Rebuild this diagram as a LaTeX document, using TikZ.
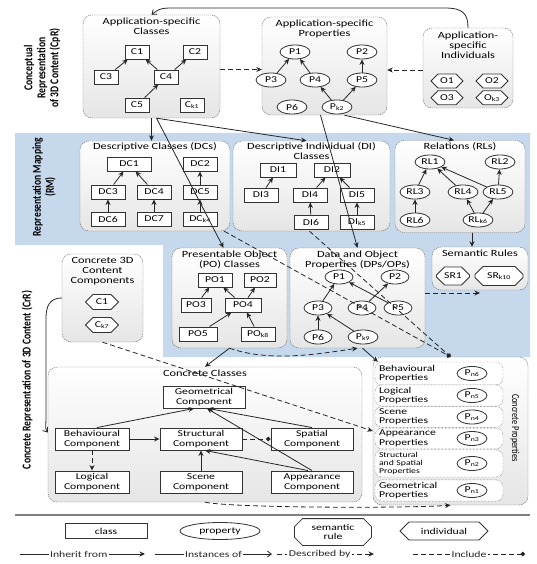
\documentclass[tikz,border=0pt]{standalone}
\usepackage{fontspec}
\setmainfont{Carlito}[FakeStretch=1.3]
\newfontfamily\sidefont{Carlito}[FakeStretch=0.8]
\usepackage{tikz}
\usetikzlibrary{shapes.geometric, shapes.misc, shapes.symbols, arrows.meta, positioning}
\definecolor{MapBlue}{HTML}{C6D9EC}
\definecolor{EdgeGray}{HTML}{333333}
\definecolor{RuleGray}{HTML}{7F7F7F}
\tikzset{
  % Group styles
  groupbox/.style={rectangle, rounded corners=9pt, draw=black!60, dash pattern=on 1.2pt off 0.8pt, top color=white, bottom color=black!10, inner sep=0pt},
  grouptitle/.style={font=\fontsize{9.5}{10}\selectfont, align=center, inner sep=1pt, anchor=north},
  % Element styles
  classbox/.style={rectangle, draw=EdgeGray, fill=white, line width=0.9pt, minimum width=24pt, minimum height=14pt, inner sep=1pt, font=\fontsize{9}{9.5}\selectfont},
  propnode/.style={ellipse, draw=EdgeGray, fill=white, line width=0.8pt, minimum width=30pt, minimum height=14pt, inner sep=0pt, font=\fontsize{9}{9.5}\selectfont},
  indivnode/.style={signal, signal to=west and east, draw=EdgeGray, fill=white, line width=0.8pt, minimum width=32pt, minimum height=14pt, inner sep=1pt, font=\fontsize{9}{9.5}\selectfont},
  rulenode/.style={chamfered rectangle, chamfered rectangle xsep=4pt, chamfered rectangle ysep=4pt, draw=EdgeGray, fill=white, line width=0.8pt, minimum height=16pt, inner sep=2pt, font=\fontsize{9}{9.5}\selectfont},
  compbox/.style={classbox, minimum width=82pt, minimum height=22pt, align=center, font=\fontsize{9}{10}\selectfont},
  propitem/.style={rectangle, rounded corners=7pt, draw=black!70, densely dotted, fill=white, minimum width=128pt, text width=120pt, align=left, inner sep=2pt, font=\fontsize{9}{9.5}\selectfont},
  sidelabel/.style={rotate=90, font=\sidefont\bfseries\fontsize{12}{13}\selectfont, align=center},
  legendtext/.style={fill=white, inner sep=1.5pt, font=\fontsize{9}{9.5}\selectfont},
  % Connector styles
  inherit/.style={-{Stealth[length=5.5pt, width=5pt]}, line width=0.8pt, black!85},
  instance/.style={-{Straight Barb[length=4pt, width=6pt]}, line width=0.8pt, black!85},
  describe/.style={-{Stealth[length=5.5pt, width=5pt]}, dash pattern=on 5pt off 3pt, line width=0.8pt, black!85},
  include/.style={-{Circle[length=4.5pt]}, dash pattern=on 5pt off 3pt, line width=0.8pt, black!85}
}
\begin{document}
\begin{tikzpicture}[x=1pt, y=-1pt]
  \useasboundingbox (0,0) rectangle (536,564);
  % Mapping band
  \fill[MapBlue] (15,133) -- (530,133) -- (530,357) -- (163,357) -- (163,245) -- (15,245) -- cycle;

  % Layer labels
  \node[sidelabel] (cprlabel) at (42,68) {Conceptual\\Representation\\of 3D Content (CpR)};
  \node[sidelabel] (rmlabel) at (44,187) {Representation Mapping\\(RM)};
  \node[sidelabel] (crrlabel) at (27,380) {Concrete Representation of 3D Content (CrR)};

  % Application-specific classes
  \node[groupbox, minimum width=137pt, minimum height=103pt] (asclasses) at (151.5,66.5) {};
  \node[grouptitle] (asclassestitle) at ([yshift=-2pt]asclasses.north) {Application-specific\\Classes};
  \node[classbox] (c1) at (137,52) {C1};
  \node[classbox] (c2) at (195,52) {C2};
  \node[classbox] (c3) at (106,77) {C3};
  \node[classbox] (c4) at (166,77) {C4};
  \node[classbox] (c5) at (137,105) {C5};
  \node[classbox] (ck1) at (192,105) {C\textsubscript{k1}};

  % Application-specific properties
  \node[groupbox, minimum width=125pt, minimum height=98pt] (asprops) at (324.5,66) {};
  \node[grouptitle] (aspropstitle) at ([yshift=-2pt]asprops.north) {Application-specific\\Properties};
  \node[propnode] (ap1) at (295,52) {P1};
  \node[propnode] (ap2) at (362,52) {P2};
  \node[propnode] (ap3) at (271,80) {P3};
  \node[propnode] (ap4) at (315,80) {P4};
  \node[propnode] (ap5) at (362,80) {P5};
  \node[propnode] (ap6) at (292,107) {P6};
  \node[propnode] (apk2) at (337,107) {P\textsubscript{k2}};

  % Application-specific individuals
  \node[groupbox, minimum width=90pt, minimum height=80pt] (asindiv) at (468,68) {};
  \node[grouptitle] (asindivtitle) at ([yshift=-3pt]asindiv.north) {Application-\\specific\\Individuals};
  \node[indivnode] (o1) at (447,81) {O1};
  \node[indivnode] (o2) at (492,81) {O2};
  \node[indivnode, below=2pt of o1] (o3) {O3};
  \node[indivnode, below=2pt of o2] (ok3) {O\textsubscript{k3}};

  % Descriptive classes
  \node[groupbox, minimum width=150pt, minimum height=90pt] (dcs) at (155,186) {};
  \node[grouptitle] (dcstitle) at ([yshift=-1pt]dcs.north) {Descriptive Classes (DCs)};
  \node[classbox, minimum width=44pt] (dc1) at (129,164) {DC1};
  \node[classbox, minimum width=34pt] (dc2) at (200,164) {DC2};
  \node[classbox, minimum width=34pt] (dc3) at (108,192) {DC3};
  \node[classbox, minimum width=34pt] (dc4) at (154,192) {DC4};
  \node[classbox, minimum width=34pt] (dc5) at (200,192) {DC5};
  \node[classbox, minimum width=34pt] (dc6) at (108,219) {DC6};
  \node[classbox, minimum width=34pt] (dc7) at (154,219) {DC7};
  \node[classbox, minimum width=34pt] (dck4) at (200,219) {DC\textsubscript{k4}};

  % Descriptive individual classes
  \node[groupbox, minimum width=157pt, minimum height=90pt] (dis) at (311.5,186) {};
  \node[grouptitle] (distitle) at ([yshift=-1pt]dis.north) {Descriptive Individual (DI)\\Classes};
  \node[classbox, minimum width=36pt] (di1) at (278,170) {DI1};
  \node[classbox, minimum width=36pt] (di2) at (332,170) {DI2};
  \node[classbox, minimum width=34pt] (di3) at (261,195) {DI3};
  \node[classbox, minimum width=34pt] (di4) at (310,195) {DI4};
  \node[classbox, minimum width=34pt] (di5) at (357,195) {DI5};
  \node[classbox, minimum width=34pt] (di6) at (311,222) {DI6};
  \node[classbox, minimum width=34pt] (dik5) at (357,222) {DI\textsubscript{k5}};

  % Relations
  \node[groupbox, minimum width=130pt, minimum height=92pt] (rls) at (460,186.5) {};
  \node[grouptitle] (rlstitle) at ([yshift=-1pt]rls.north) {Relations (RLs)};
  \node[propnode] (rl1) at (430,162) {RL1};
  \node[propnode] (rl2) at (500,162) {RL2};
  \node[propnode] (rl3) at (415,192) {RL3};
  \node[propnode] (rl4) at (463,192) {RL4};
  \node[propnode] (rl5) at (498,192) {RL5};
  \node[propnode] (rl6) at (415,220) {RL6};
  \node[propnode] (rlk6) at (478,220) {RL\textsubscript{k6}};

  % Semantic rules
  \node[groupbox, minimum width=96pt, minimum height=43pt] (srules) at (480,268.5) {};
  \node[grouptitle] (srulestitle) at ([yshift=-2pt]srules.north) {Semantic Rules};
  \node[rulenode, minimum width=33pt] (sr1) at (453,276) {SR1};
  \node[rulenode, minimum width=48pt] (srk10) at (499,276) {SR\textsubscript{k10}};

  % Concrete 3D content components
  \node[groupbox, minimum width=81pt, minimum height=88pt] (c3d) at (102.5,298) {};
  \node[grouptitle] (c3dtitle) at ([yshift=-2pt]c3d.north) {Concrete 3D\\Content\\Components};
  \node[indivnode, minimum width=33pt, minimum height=15pt] (cc1) at (102,302) {C1};
  \node[indivnode, minimum width=33pt, minimum height=15pt] (cck7) at (102,325) {C\textsubscript{k7}};

  % Presentable object classes
  \node[groupbox, minimum width=115pt, minimum height=100pt] (poclasses) at (229.5,298) {};
  \node[grouptitle] (potitle) at ([yshift=-2pt]poclasses.north) {Presentable Object\\(PO) Classes};
  \node[classbox, minimum width=34pt] (po1) at (215,280) {PO1};
  \node[classbox, minimum width=32pt] (po2) at (260,280) {PO2};
  \node[classbox, minimum width=30pt] (po3) at (196,305) {PO3};
  \node[classbox, minimum width=36pt] (po4) at (243,305) {PO4};
  \node[classbox, minimum width=38pt] (po5) at (198,334) {PO5};
  \node[classbox, minimum width=34pt] (pok8) at (258,334) {PO\textsubscript{k8}};

  % Data and object properties
  \node[groupbox, minimum width=135pt, minimum height=100pt] (dpops) at (357.5,298) {};
  \node[grouptitle] (dptitle) at ([yshift=-2pt]dpops.north) {Data and Object\\Properties (DPs/OPs)};
  \node[propnode, minimum width=28pt] (dp1) at (339,277) {P1};
  \node[propnode, minimum width=28pt] (dp2) at (395,277) {P2};
  \node[propnode, minimum width=28pt] (dp3) at (318,308) {P3};
  \node[propnode, minimum width=28pt] (dp4) at (362,308) {P4};
  \node[propnode, minimum width=28pt] (dp5) at (398,308) {P5};
  \node[propnode, minimum width=28pt] (dp6) at (318,337) {P6};
  \node[propnode, minimum width=30pt] (dpk9) at (363,337) {P\textsubscript{k9}};

  % Concrete classes
  \node[groupbox, minimum width=314pt, minimum height=135pt] (cclasses) at (205,434.5) {};
  \node[grouptitle] (cclassestitle) at ([yshift=-2pt]cclasses.north) {Concrete Classes};
  \node[compbox] (geo) at (204,397) {Geometrical\\Component};
  \node[compbox, minimum width=74pt] (beh) at (92,439) {Behavioural\\Component};
  \node[compbox] (str) at (201,439) {Structural\\Component};
  \node[compbox] (spa) at (312,439) {Spatial\\Component};
  \node[compbox, minimum width=74pt] (log) at (92,482) {Logical\\Component};
  \node[compbox] (sce) at (201,482) {Scene\\Component};
  \node[compbox] (app) at (312,482) {Appearance\\Component};

  % Concrete properties
  \node[groupbox, minimum width=155pt, minimum height=148pt] (cprops) at (450.5,431) {};
  \node[rotate=-90, font=\sidefont\fontsize{10.5}{11}\selectfont] (cpropslabel) at (515,428) {Concrete Properties};
  \node[propitem, minimum height=23pt] (bprops) at (439,373.5) {Behavioural\\Properties};
  \node[propitem, minimum height=21pt] (lprops) at (439,395.5) {Logical\\Properties};
  \node[propitem, minimum height=20pt] (sprops) at (439,417) {Scene\\Properties};
  \node[propitem, minimum height=20pt] (aprops) at (439,438.5) {Appearance\\Properties};
  \node[propitem, minimum height=27pt, font=\fontsize{7.5}{8}\selectfont] (ssprops) at (439,463.5) {Structural\\and Spatial\\Properties};
  \node[propitem, minimum height=21pt] (gprops) at (439,490.5) {Geometrical\\Properties};
  \node[propnode] (pn6) at (472,373.5) {P\textsubscript{n6}};
  \node[propnode] (pn5) at (472,395.5) {P\textsubscript{n5}};
  \node[propnode] (pn4) at (472,417) {P\textsubscript{n4}};
  \node[propnode] (pn3) at (472,438.5) {P\textsubscript{n3}};
  \node[propnode] (pn2) at (472,463.5) {P\textsubscript{n2}};
  \node[propnode] (pn1) at (472,490.5) {P\textsubscript{n1}};

  % Hierarchies inside the groups
  \draw[inherit] (c3) -- (c1);
  \draw[inherit] (c4) -- (c1);
  \draw[inherit] (c4) -- (c2);
  \draw[inherit] (c5) -- (c4);
  \draw[inherit] (ap3) -- (ap1);
  \draw[inherit] (ap4) -- (ap1);
  \draw[inherit] (ap5) -- (ap2);
  \draw[inherit] (apk2) -- (ap4);
  \draw[inherit] (apk2) -- (ap5);
  \draw[inherit] (dc3) -- (dc1);
  \draw[inherit] (dc4) -- (dc1);
  \draw[inherit] (dc5) -- (dc2);
  \draw[inherit] (dc6) -- (dc3);
  \draw[inherit] (dc7) -- (dc4);
  \draw[inherit] (dck4) -- (dc5);
  \draw[inherit] (di3) -- (di1);
  \draw[inherit] (di4) -- (di2);
  \draw[inherit] (di5) -- (di2);
  \draw[inherit] (di6) -- (di4);
  \draw[inherit] (dik5) -- (di5);
  \draw[inherit] (rl3) -- (rl1);
  \draw[inherit] (rl4) -- (rl1);
  \draw[inherit] (rl5) -- (rl1);
  \draw[inherit] (rl5) -- (rl2);
  \draw[inherit] (rl6) -- (rl3);
  \draw[inherit] (rlk6) -- (rl4);
  \draw[inherit] (rlk6) -- (rl5);
  \draw[inherit] (po3) -- (po1);
  \draw[inherit] (po4) -- (po1);
  \draw[inherit] (po4) -- (po2);
  \draw[inherit] (po5) -- (po4);
  \draw[inherit] (pok8) -- (po4);
  \draw[inherit] (dp3) -- (dp1);
  \draw[inherit] (dp5) -- (dp1);
  \draw[inherit] (dp4) -- (dp2);
  \draw[inherit] (dp6) -- (dp3);
  \draw[inherit] (dpk9) -- (dp3);
  \draw[inherit] ([xshift=5pt]beh.north) -- ([xshift=-10pt]geo.south);
  \draw[inherit] (spa.north) -- ([xshift=4pt]geo.south);
  \draw[inherit] (app.north) -- ([xshift=3pt]geo.south);
  \draw[inherit] (beh) -- (str);
  \draw[inherit] (sce) -- (str);
  \draw[inherit] ([xshift=-4pt]app.north) -- ([xshift=4pt]str.south);
  \draw[include] (str) -- (spa);
  \draw[describe] (beh) -- (log);

  % Links between the groups
  \coordinate (topright) at (445,8);
  \coordinate (topleft) at (172,8);
  \draw[instance] (asindiv.north) .. controls +(0,-14) and +(18,0) .. (topright) -- (topleft) .. controls +(-12,0) and +(6,-5) .. (asclasses.north);
  \draw[describe] ([yshift=-3pt]asclasses.east) -- ([yshift=-3pt]asclasses.east -| asprops.west);
  \draw[describe] ([yshift=-2pt]asindiv.west) -- ([yshift=-2pt]asindiv.west -| asprops.east);
  \draw[inherit] (asclasses.south) -- (asclasses.south |- dcs.north);
  \draw[inherit] ([xshift=5pt]asclasses.south) -- ([xshift=-6pt]poclasses.north);
  \draw[inherit] ([xshift=5pt]asclasses.south) -- ([xshift=-5pt]dis.north);
  \draw[inherit] ([xshift=-4pt]asprops.south) -- (dpops.north);
  \draw[inherit] ([xshift=20pt]asprops.south) -- ([xshift=-6pt]rls.north);
  \draw[inherit] ([xshift=12pt]rls.south) -- ([xshift=-8pt]srules.north);
  \draw[describe] ([yshift=5pt]dpops.east) -- ([yshift=5pt]dpops.east -| srules.south);
  \draw[include] ([xshift=-6pt]dcs.south east) -- (cprops.north);
  \draw[include] ([xshift=-2pt]dis.south) -- (cprops.north);
  \draw[describe] (c3d.south) -- (cprops.west);
  \coordinate (crrtop) at (46,318);
  \coordinate (crrbottom) at (46,418);
  \draw[instance] (c3d.west) .. controls +(-12,0) and +(0,-12) .. (crrtop) -- (crrbottom) .. controls +(0,8) and +(-3,-4) .. ([yshift=2pt]cclasses.west);
  \draw[inherit] (poclasses.south) -- (cclasses.north);
  \draw[describe] (poclasses.south) .. controls +(40,14) and +(-40,6) .. (dpops.south);
  \draw[inherit] ([xshift=5pt]dpops.south) -- ([xshift=5pt, yshift=-5pt]cprops.north west);
  \draw[describe] (cclasses.south) .. controls +(30,6) and +(-40,3) .. (cprops.south);

  % Legend
  \draw[RuleGray, line width=1.5pt] (15,515) -- (530,515);
  \node[classbox, minimum width=82pt, minimum height=15pt] (legclass) at (106,531) {class};
  \node[propnode, minimum width=80pt, minimum height=17pt] (legprop) at (220,531) {property};
  \node[rulenode, minimum width=77pt, minimum height=22pt, align=center, font=\fontsize{9}{8.5}\selectfont] (legrule) at (333,532) {semantic\\rule};
  \node[indivnode, minimum width=88pt, minimum height=18pt] (legindiv) at (444,531) {individual};
  \coordinate (inhA) at (20,554);
  \coordinate (inhB) at (145,554);
  \coordinate (insA) at (155,554);
  \coordinate (insB) at (272,554);
  \coordinate (desA) at (277,554);
  \coordinate (desB) at (374,554);
  \coordinate (incA) at (413,554);
  \coordinate (incB) at (525,554);
  \draw[inherit] (inhA) -- (inhB) node[legendtext, pos=0.47] (inhtext) {Inherit from};
  \draw[instance] (insA) -- (insB) node[legendtext, pos=0.5] (instext) {Instances of};
  \draw[describe] (desA) -- (desB) node[legendtext, pos=0.44] (destext) {Described by};
  \draw[include] (incA) -- (incB) node[legendtext, pos=0.5] (inctext) {Include};
\end{tikzpicture}
\end{document}
